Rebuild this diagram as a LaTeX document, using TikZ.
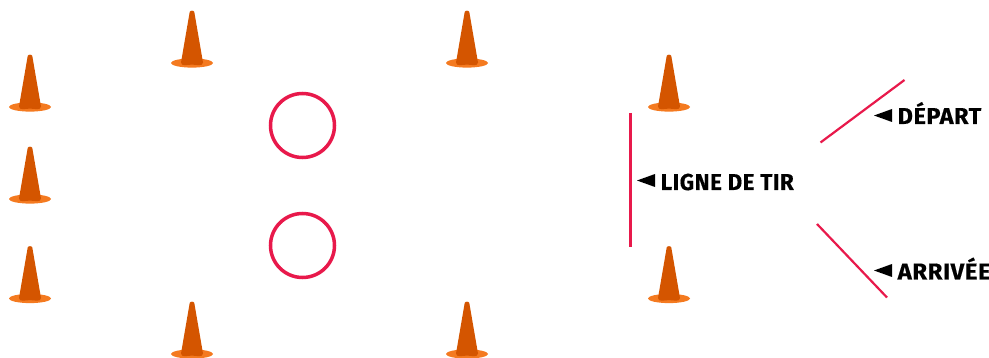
\documentclass[tikz,border=0pt]{standalone}
\usepackage{fontspec}
\setmainfont{Fira Sans}
\usepackage{xcolor}
\usetikzlibrary{positioning}
\definecolor{conedark}{HTML}{D45500}
\definecolor{conelight}{HTML}{F47A20}
\definecolor{linered}{HTML}{E8194B}
\tikzset{
  cone/.pic={
    \fill[conelight] (0,0) ellipse (21 and 4.6);
    \fill[conedark] (-11,-0.5) to[out=-90,in=180] (0,1.6) to[out=0,in=-90] (11,-0.5)
      -- (2.3,-51) to[out=100,in=80] (-2.3,-51) -- cycle;
  },
  redline/.style={draw=linered,line width=2.2pt},
  target/.style={circle,draw=linered,line width=3.5pt,minimum size=64pt,inner sep=0pt},
  label/.style={font=\bfseries\fontsize{23}{23}\selectfont\addfontfeature{LetterSpace=2.5,FakeBold=0.4},text=black,inner sep=0pt,anchor=base west,xscale=0.97},
  pointer/.style={fill=black}
}
\begin{document}
\begin{tikzpicture}[x=1pt,y=-1pt]
\useasboundingbox (0,0) rectangle (989,358);
% left row
\pic at (30,107) {cone};
\pic at (30,199) {cone};
\pic at (30,298.5) {cone};
% top and bottom
\pic at (192,63) {cone};
\pic at (467,63) {cone};
\pic at (192,354) {cone};
\pic at (467,354) {cone};
% right pair
\pic at (669,107) {cone};
\pic at (669,298.5) {cone};
% targets
\node[target] (upper) at (302.5,125.5) {};
\node[target] (lower) at (302.5,245.5) {};
% lines
\coordinate (tirA) at (630.5,113); \coordinate (tirB) at (630.5,247);
\coordinate (depA) at (820.5,142.5); \coordinate (depB) at (904.5,80);
\coordinate (arrA) at (817,224); \coordinate (arrB) at (887,297.5);
\draw[redline] (tirA)--(tirB);
\draw[redline] (depA)--(depB);
\draw[redline] (arrA)--(arrB);
% labels
\fill[pointer] (637,180.5)--(655,174)--(655,187)--cycle;
\node[label] (tir) at (660.5,190) {LIGNE DE TIR};
\fill[pointer] (874,115.5)--(892,109)--(892,122)--cycle;
\node[label,xscale=1.05] (depart) at (897.5,124) {DÉPART};
\fill[pointer] (874,270.5)--(892,264)--(892,277)--cycle;
\node[label,xscale=1.07] (arrivee) at (897.5,279.5) {ARRIVÉE};
\end{tikzpicture}
\end{document}
